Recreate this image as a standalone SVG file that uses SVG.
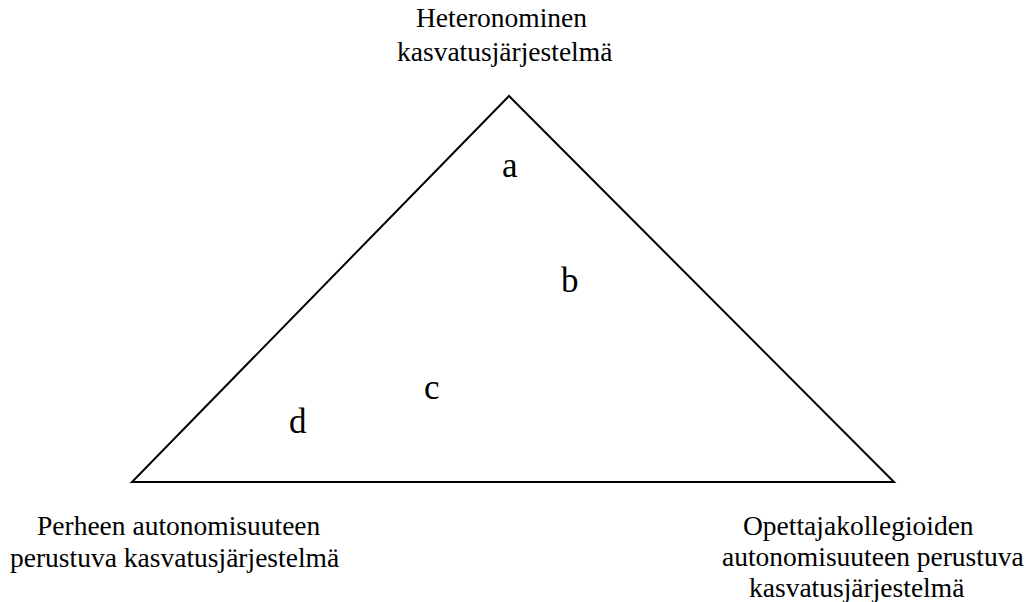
<svg xmlns="http://www.w3.org/2000/svg" width="1033" height="602" viewBox="0 0 1033 602">
<style>
.lbl{font-family:"Liberation Serif","Times New Roman",serif;font-size:27.5px;fill:#000}
.ltr{font-family:"Liberation Serif","Times New Roman",serif;font-size:35px;fill:#000}
</style>
<rect width="1033" height="602" fill="#fff"/>
<g id="connectors">
<polygon points="509,96 132,482 894,482" fill="none" stroke="#000" stroke-width="2"/>
</g>
<g id="top">
<text class="lbl" x="416" y="27">Heteronominen</text>
<text class="lbl" x="397" y="61">kasvatusjärjestelmä</text>
</g>
<g id="left">
<text class="lbl" x="37" y="535">Perheen autonomisuuteen</text>
<text class="lbl" x="10" y="567">perustuva kasvatusjärjestelmä</text>
</g>
<g id="right">
<text class="lbl" x="743" y="535">Opettajakollegioiden</text>
<text class="lbl" x="722" y="566">autonomisuuteen perustuva</text>
<text class="lbl" x="749" y="597">kasvatusjärjestelmä</text>
</g>
<g id="a"><text class="ltr" x="502" y="177">a</text></g>
<g id="b"><text class="ltr" x="561" y="292">b</text></g>
<g id="c"><text class="ltr" x="424" y="399">c</text></g>
<g id="d"><text class="ltr" x="289" y="433">d</text></g>
</svg>
